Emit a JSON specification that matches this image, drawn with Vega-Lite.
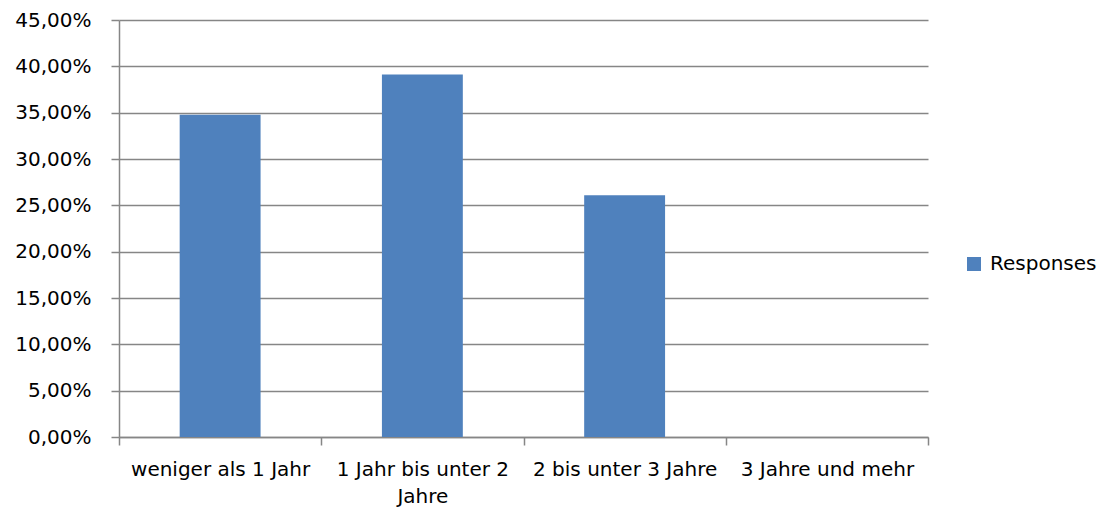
{
  "$schema": "https://vega.github.io/schema/vega-lite/v6.json",
  "width": 809,
  "height": 417,
  "autosize": {"type": "none"},
  "padding": {"left": 119, "top": 20, "right": 181, "bottom": 81},
  "background": "white",
  "data": {
    "values": [
      {"category": "weniger als 1 Jahr", "value": 0.3478, "series": "Responses"},
      {"category": "1 Jahr bis unter 2 Jahre", "value": 0.3913, "series": "Responses"},
      {"category": "2 bis unter 3 Jahre", "value": 0.2609, "series": "Responses"},
      {"category": "3 Jahre und mehr", "value": 0, "series": "Responses"}
    ]
  },
  "config": {
    "view": {"stroke": null},
    "font": "DejaVu Sans"
  },
  "mark": {"type": "bar", "width": {"band": 0.4}},
  "encoding": {
    "x": {
      "field": "category",
      "type": "nominal",
      "sort": null,
      "scale": {"paddingInner": 0, "paddingOuter": 0},
      "axis": {
        "title": null,
        "labelAngle": 0,
        "labelFont": "DejaVu Sans",
        "labelFontSize": 20,
        "labelColor": "#000000",
        "labelPadding": 14,
        "labelLimit": 300,
        "labelLineHeight": 27,
        "labelExpr": "datum.label == '1 Jahr bis unter 2 Jahre' ? ['1 Jahr bis unter 2', 'Jahre'] : datum.label",
        "tickBand": "extent",
        "tickColor": "#868686",
        "tickSize": 8,
        "domainColor": "#868686",
        "domainWidth": 1.5,
        "tickWidth": 1.5,
        "grid": false
      }
    },
    "y": {
      "field": "value",
      "type": "quantitative",
      "scale": {"domain": [0, 0.45], "nice": false},
      "axis": {
        "title": null,
        "values": [0, 0.05, 0.1, 0.15, 0.2, 0.25, 0.3, 0.35, 0.4, 0.45],
        "labelExpr": "replace(format(datum.value, '.2%'), '.', ',')",
        "labelFont": "DejaVu Sans",
        "labelFontSize": 20,
        "labelColor": "#000000",
        "labelPadding": 20,
        "tickColor": "#868686",
        "tickSize": 8,
        "tickWidth": 1.5,
        "domainColor": "#868686",
        "domainWidth": 1.5,
        "grid": true,
        "gridColor": "#868686",
        "gridWidth": 1.5
      }
    },
    "color": {
      "field": "series",
      "type": "nominal",
      "scale": {"range": ["#4F81BD"]},
      "legend": {
        "title": null,
        "orient": "none",
        "legendX": 845,
        "legendY": 234,
        "symbolType": "square",
        "symbolSize": 196,
        "symbolStrokeWidth": 0,
        "labelFont": "DejaVu Sans",
        "labelFontSize": 20,
        "labelColor": "#000000",
        "labelOffset": 6
      }
    }
  }
}
